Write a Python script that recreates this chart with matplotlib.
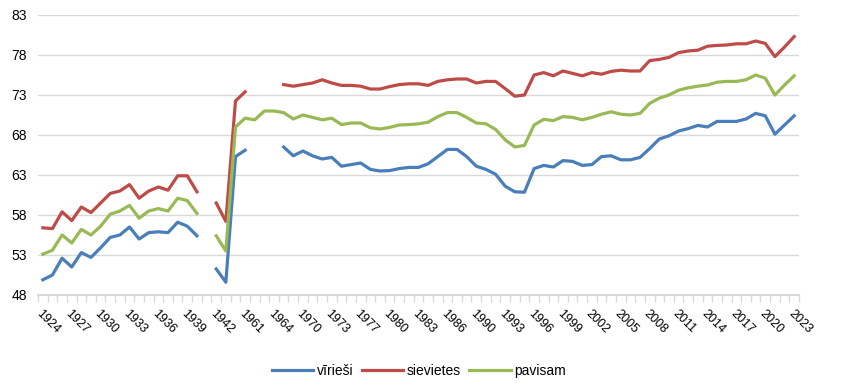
import numpy as np
import matplotlib
matplotlib.use('Agg')
import matplotlib.pyplot as plt

nan = np.nan

# categories (years) as they sit on the Excel category axis
years = list(range(1924, 1942)) + [1942, 1943, 1959, 1961, 1962, 1963, 1964, 1966, 1968,
         1970, 1971, 1972, 1973, 1974, 1975, 1977, 1978, 1979] + list(range(1980, 1989)) \
        + list(range(1990, 2024))

viriesi = [49.9, 50.5, 52.6, 51.5, 53.3, 52.7, 53.9, 55.2, 55.5, 56.5, 55.0, 55.8, 55.9, 55.8, 57.1, 56.6, 55.4,
           nan,
           51.25, 49.6, 65.3, 66.1,
           nan, nan, nan,
           66.5, 65.4, 66.0, 65.4, 65.0, 65.2, 64.1, 64.3, 64.5, 63.7, 63.5, 63.55,
           63.8, 63.95, 63.95, 64.4, 65.3, 66.2, 66.2, 65.3, 64.1, 63.7, 63.1, 61.6, 60.9, 60.85,
           63.8, 64.2, 64.0, 64.8, 64.7, 64.2, 64.3, 65.3, 65.4, 64.9, 64.9, 65.2, 66.3, 67.5,
           67.9, 68.5, 68.8, 69.2, 69.0, 69.7, 69.7, 69.7, 70.0, 70.7, 70.4, 68.1, 69.25, 70.4]

sievietes = [56.4, 56.3, 58.4, 57.3, 59.0, 58.3, 59.5, 60.7, 61.0, 61.8, 60.1, 61.0, 61.5, 61.1, 62.9, 62.9, 60.9,
             nan,
             59.5, 57.2, 72.25, 73.4,
             nan, nan, nan,
             74.3, 74.1, 74.3, 74.5, 74.9, 74.5, 74.2, 74.2, 74.1, 73.75, 73.75, 74.05,
             74.3, 74.4, 74.4, 74.2, 74.7, 74.9, 75.0, 75.0, 74.5, 74.7, 74.7, 73.8, 72.85, 73.0,
             75.5, 75.8, 75.4, 76.0, 75.7, 75.4, 75.8, 75.6, 75.95, 76.1, 76.0, 76.0, 77.3, 77.45,
             77.7, 78.3, 78.5, 78.6, 79.1, 79.2, 79.25, 79.4, 79.4, 79.75, 79.45, 77.8, 79.0, 80.3]

pavisam = [53.1, 53.6, 55.5, 54.5, 56.2, 55.5, 56.6, 58.1, 58.5, 59.2, 57.6, 58.5, 58.8, 58.5, 60.1, 59.8, 58.2,
           nan,
           55.4, 53.5, 69.0, 70.1, 69.9, 71.0, 71.0,
           70.8, 70.0, 70.5, 70.2, 69.9, 70.1, 69.3, 69.5, 69.5, 68.9, 68.75, 68.95,
           69.25, 69.3, 69.4, 69.6, 70.3, 70.8, 70.8, 70.2, 69.5, 69.4, 68.7, 67.4, 66.5, 66.7,
           69.25, 69.96, 69.8, 70.3, 70.2, 69.9, 70.2, 70.6, 70.9, 70.6, 70.5, 70.7, 71.96, 72.6,
           73.0, 73.6, 73.9, 74.1, 74.25, 74.6, 74.7, 74.7, 74.9, 75.5, 75.1, 73.0, 74.25, 75.4]

plt.rcParams['font.family'] = ['Liberation Sans', 'DejaVu Sans']

x = np.arange(len(years))

fig = plt.figure(figsize=(8.41, 3.85), dpi=100)
ax = fig.add_axes([38 / 841, 1 - 295 / 385, 761 / 841, 280 / 385])

ax.plot(x, viriesi, color='#4a7ebb', lw=2.3, label='vīrieši', solid_joinstyle='round')
ax.plot(x, sievietes, color='#be4b48', lw=2.3, label='sievietes', solid_joinstyle='round')
ax.plot(x, pavisam, color='#98b954', lw=2.3, label='pavisam', solid_joinstyle='round')

ax.set_xlim(-0.5, len(years) - 0.5)
ax.set_ylim(48, 83)
ax.set_yticks(range(48, 84, 5))
ax.tick_params(axis='y', length=0, labelsize=10, pad=8)
ax.yaxis.grid(True, color='#d9d9d9', lw=1)
ax.set_axisbelow(True)

ax.set_xticks(x[::3])
ax.set_xticklabels([str(years[i]) for i in x[::3]], rotation=-45, ha='left', va='top',
                   rotation_mode='anchor', fontsize=9)
ax.set_xticks(np.arange(-0.5, len(years), 1), minor=True)
ax.tick_params(axis='x', which='major', length=0, pad=9)
ax.tick_params(axis='x', which='minor', length=5, width=1, color='#d9d9d9')

for s in ['top', 'right', 'left']:
    ax.spines[s].set_visible(False)
ax.spines['bottom'].set_color('#d9d9d9')
ax.spines['bottom'].set_linewidth(1.5)

fig.legend(loc='center', bbox_to_anchor=(419 / 841, 1 - 371 / 385), ncol=3, frameon=False,
           fontsize=10, handlelength=3.0, handletextpad=0.25, columnspacing=0.6)

fig.savefig('out.png', dpi=100)
